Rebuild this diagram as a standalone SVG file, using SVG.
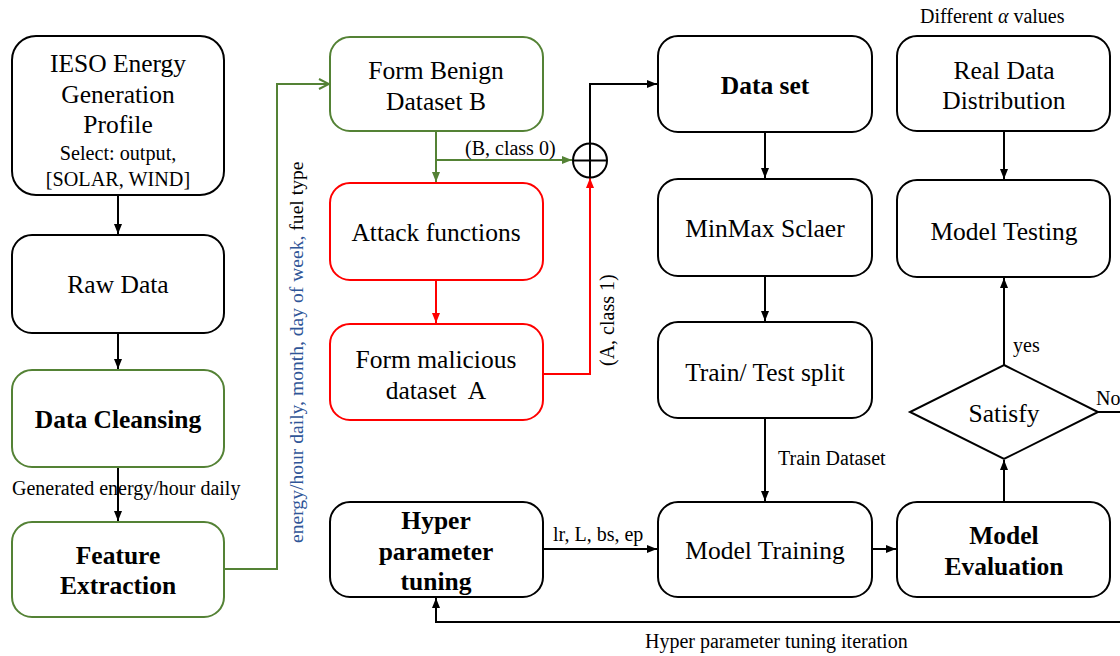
<svg xmlns="http://www.w3.org/2000/svg" width="1120" height="656" viewBox="0 0 1120 656">
  <style>
    text { font-family: "Liberation Serif", "Times New Roman", serif; fill: #000; }
    .n { font-size: 25.5px; text-anchor: middle; dominant-baseline: central; }
    .b { font-weight: bold; }
    .s { font-size: 20.2px; text-anchor: middle; dominant-baseline: central; }
    .lbl { font-size: 20px; }
    .vlbl { font-size: 19.6px; }
    .box { fill: #fff; stroke: #000; stroke-width: 2; }
    .gbox { fill: #fff; stroke: #548235; stroke-width: 2; }
    .rbox { fill: #fff; stroke: #ff0000; stroke-width: 2; }
    .k { fill: none; stroke: #000; stroke-width: 2; }
    .g { fill: none; stroke: #548235; stroke-width: 2; }
    .r { fill: none; stroke: #ff0000; stroke-width: 2; }
  </style>
  <defs>
    <marker id="ak" viewBox="0 0 10 10" refX="10" refY="5" markerWidth="10" markerHeight="10" markerUnits="userSpaceOnUse" orient="auto">
      <path d="M0,1 L10,5 L0,9 Z" fill="#000"/>
    </marker>
    <marker id="ag" viewBox="0 0 10 10" refX="10" refY="5" markerWidth="10" markerHeight="10" markerUnits="userSpaceOnUse" orient="auto">
      <path d="M0,1 L10,5 L0,9 Z" fill="#548235"/>
    </marker>
    <marker id="ar" viewBox="0 0 10 10" refX="10" refY="5" markerWidth="10" markerHeight="10" markerUnits="userSpaceOnUse" orient="auto">
      <path d="M0,1 L10,5 L0,9 Z" fill="#ff0000"/>
    </marker>
    <marker id="ago" viewBox="0 0 12 12" refX="11" refY="6" markerWidth="12" markerHeight="12" markerUnits="userSpaceOnUse" orient="auto">
      <path d="M1,1 L11,6 L1,11" fill="none" stroke="#548235" stroke-width="2"/>
    </marker>
  </defs>

  <!-- connectors -->
  <g id="connectors">
    <line class="k" x1="118" y1="195" x2="118" y2="234" marker-end="url(#ak)"/>
    <line class="k" x1="118" y1="333" x2="118" y2="369" marker-end="url(#ak)"/>
    <line class="k" x1="118" y1="467" x2="118" y2="521" marker-end="url(#ak)"/>
    <text class="lbl" x="12" y="495">Generated energy/hour daily</text>

    <polyline class="g" points="224,569 277,569 277,84 329,84" marker-end="url(#ago)"/>
    <text class="vlbl" transform="translate(303,543) rotate(-90)"><tspan fill="#2f5597">energy/hour daily, month, day of week, </tspan><tspan>fuel type</tspan></text>

    <line class="g" x1="436" y1="131" x2="436" y2="182" marker-end="url(#ag)"/>
    <line class="g" x1="436" y1="160" x2="572" y2="160" marker-end="url(#ag)"/>
    <text class="lbl" x="465" y="155">(B, class 0)</text>
    <line class="r" x1="436" y1="280" x2="436" y2="323" marker-end="url(#ar)"/>
    <polyline class="r" points="543,374 590,374 590,178" marker-end="url(#ar)"/>
    <text class="lbl" transform="translate(614,366) rotate(-90)">(A, class 1)</text>

    <circle class="k" cx="590" cy="160.5" r="17"/>
    <line class="k" x1="573" y1="160.5" x2="607" y2="160.5"/>
    <line class="k" x1="590" y1="143.5" x2="590" y2="177.5"/>
    <polyline class="k" points="590,143.5 590,84 657,84" marker-end="url(#ak)"/>

    <line class="k" x1="765" y1="132" x2="765" y2="178" marker-end="url(#ak)"/>
    <line class="k" x1="765" y1="276" x2="765" y2="321" marker-end="url(#ak)"/>
    <line class="k" x1="765" y1="418" x2="765" y2="501" marker-end="url(#ak)"/>
    <text class="lbl" x="778" y="465">Train Dataset</text>

    <line class="k" x1="543" y1="549" x2="657" y2="549" marker-end="url(#ak)"/>
    <text class="lbl" x="553" y="541">lr, L, bs, ep</text>
    <line class="k" x1="872" y1="549" x2="896" y2="549" marker-end="url(#ak)"/>

    <line class="k" x1="1004" y1="131" x2="1004" y2="179" marker-end="url(#ak)"/>
    <line class="k" x1="1004" y1="502" x2="1004" y2="460" marker-end="url(#ak)"/>
    <line class="k" x1="1004" y1="365" x2="1004" y2="278" marker-end="url(#ak)"/>
    <text class="lbl" x="1013" y="352">yes</text>
    <line class="k" x1="1098" y1="412" x2="1120" y2="412"/>
    <text class="lbl" x="1096" y="405">No</text>

    <polyline class="k" points="1120,622 436,622 436,598" marker-end="url(#ak)"/>
    <text class="lbl" x="645" y="648">Hyper parameter tuning iteration</text>
  </g>

  <g id="ieso">
    <rect class="box" x="12" y="36" width="212" height="159" rx="24"/>
    <text class="n" x="118" y="63">IESO Energy</text>
    <text class="n" x="118" y="94">Generation</text>
    <text class="n" x="118" y="124">Profile</text>
    <text class="s" x="118" y="153">Select: output,</text>
    <text class="s" x="118" y="179">[SOLAR, WIND]</text>
  </g>
  <g id="raw-data">
    <rect class="box" x="12" y="235" width="212" height="98" rx="20"/>
    <text class="n" x="118" y="284">Raw Data</text>
  </g>
  <g id="data-cleansing">
    <rect class="gbox" x="12" y="370" width="212" height="97" rx="20"/>
    <text class="n b" x="118" y="419">Data Cleansing</text>
  </g>
  <g id="feature-extraction">
    <rect class="gbox" x="12" y="522" width="212" height="95" rx="20"/>
    <text class="n b" x="118" y="555">Feature</text>
    <text class="n b" x="118" y="585">Extraction</text>
  </g>

  <g id="benign">
    <rect class="gbox" x="330" y="37" width="213" height="94" rx="20"/>
    <text class="n" x="436" y="70">Form Benign</text>
    <text class="n" x="436" y="101">Dataset B</text>
  </g>
  <g id="attack">
    <rect class="rbox" x="330" y="183" width="213" height="97" rx="20"/>
    <text class="n" x="436" y="232">Attack functions</text>
  </g>
  <g id="malicious">
    <rect class="rbox" x="330" y="324" width="213" height="96" rx="20"/>
    <text class="n" x="436" y="359">Form malicious</text>
    <text class="n" x="436" y="390" xml:space="preserve">dataset  A</text>
  </g>
  <g id="hyper">
    <rect class="box" x="330" y="502" width="213" height="95" rx="20"/>
    <text class="n b" x="436" y="520">Hyper</text>
    <text class="n b" x="436" y="551">parameter</text>
    <text class="n b" x="436" y="581">tuning</text>
  </g>

  <g id="dataset">
    <rect class="box" x="658" y="36" width="214" height="96" rx="20"/>
    <text class="n b" x="765" y="85">Data set</text>
  </g>
  <g id="minmax">
    <rect class="box" x="658" y="179" width="214" height="97" rx="20"/>
    <text class="n" x="765" y="228">MinMax Sclaer</text>
  </g>
  <g id="split">
    <rect class="box" x="658" y="322" width="214" height="96" rx="20"/>
    <text class="n" x="765" y="372">Train/ Test split</text>
  </g>
  <g id="training">
    <rect class="box" x="658" y="502" width="214" height="95" rx="20"/>
    <text class="n" x="765" y="550">Model Training</text>
  </g>

  <g id="real-data">
    <text class="lbl" x="920" y="23">Different <tspan font-style="italic">α</tspan> values</text>
    <rect class="box" x="897" y="36" width="213" height="95" rx="20"/>
    <text class="n" x="1004" y="70">Real Data</text>
    <text class="n" x="1004" y="100">Distribution</text>
  </g>
  <g id="testing">
    <rect class="box" x="897" y="180" width="213" height="97" rx="20"/>
    <text class="n" x="1004" y="231">Model Testing</text>
  </g>
  <g id="satisfy">
    <polygon class="box" points="1004,365 1098,412 1004,459 910,412"/>
    <text class="n" x="1004" y="413">Satisfy</text>
  </g>
  <g id="evaluation">
    <rect class="box" x="897" y="502" width="213" height="95" rx="20"/>
    <text class="n b" x="1004" y="535">Model</text>
    <text class="n b" x="1004" y="566">Evaluation</text>
  </g>
</svg>
